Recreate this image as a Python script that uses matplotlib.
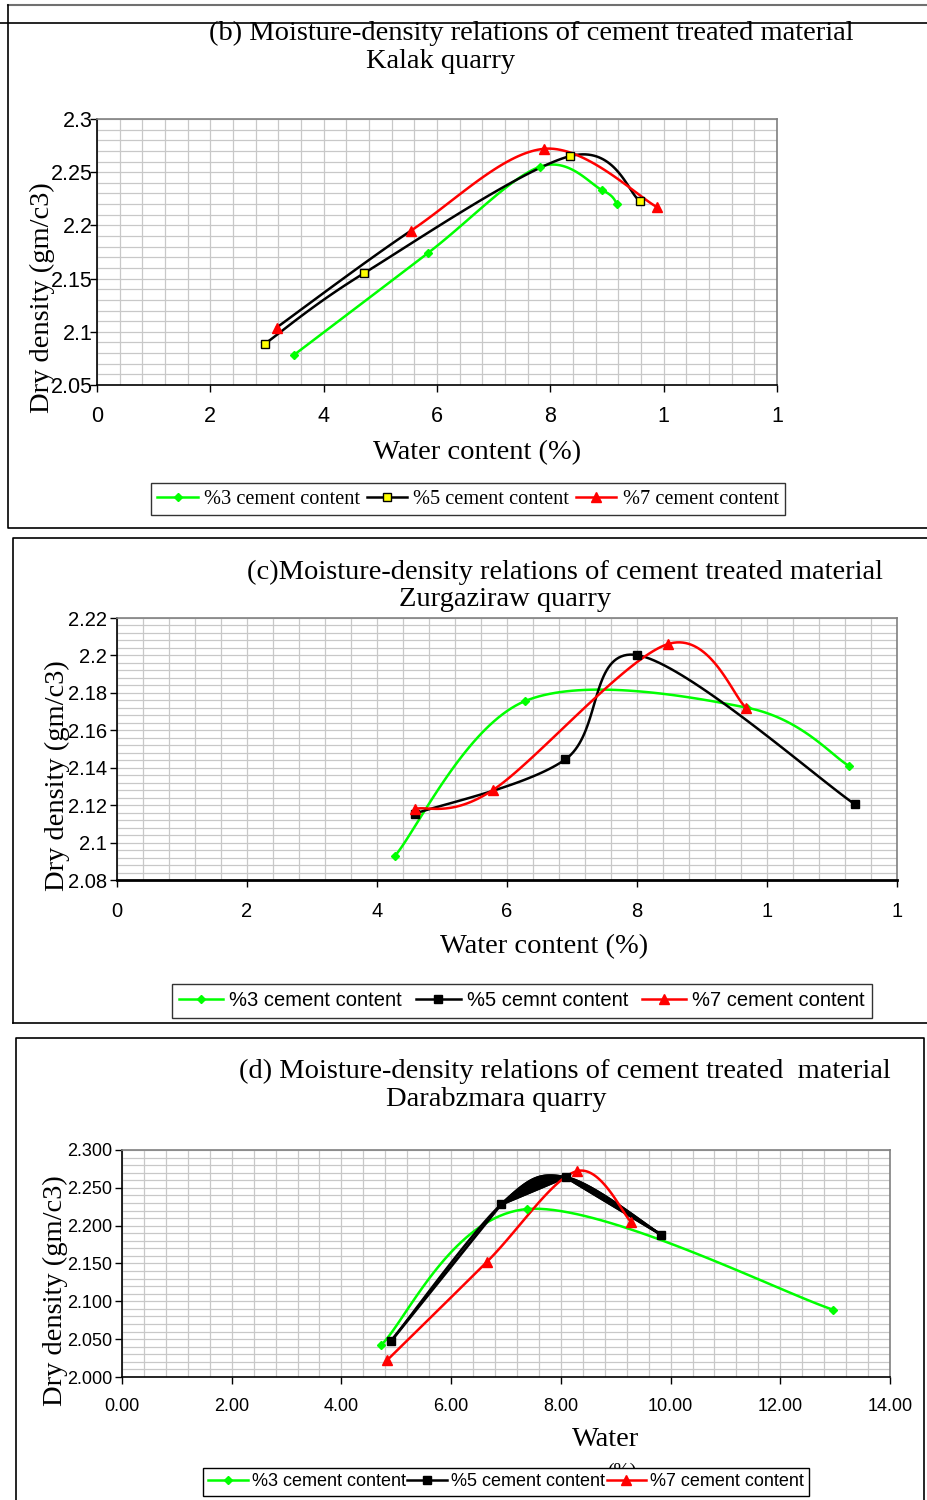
import numpy as np
import matplotlib
matplotlib.use("Agg")
import matplotlib.pyplot as plt
from matplotlib.lines import Line2D
from matplotlib.ticker import MultipleLocator

# ---- data ----
# (b) Kalak quarry
b_x3 = [3.47, 5.84, 7.81, 8.92, 9.18]
b_y3 = [2.078, 2.174, 2.255, 2.233, 2.220]
b_x5 = [2.97, 4.71, 8.34, 9.58]
b_y5 = [2.089, 2.155, 2.265, 2.223]
b_x7 = [3.17, 5.54, 7.89, 9.89]
b_y7 = [2.104, 2.195, 2.272, 2.217]

# (c) Zurgaziraw quarry
c_x3 = [4.28, 6.27, 9.70, 11.26]
c_y3 = [2.093, 2.1755, 2.172, 2.141]
c_x5 = [4.59, 6.90, 8.00, 11.35]
c_y5 = [2.1155, 2.1445, 2.2002, 2.1205]
c_x7 = [4.59, 5.78, 8.47, 9.68]
c_y7 = [2.118, 2.128, 2.206, 2.172]

# (d) Darabzmara quarry
d_x3 = [4.72, 7.39, 12.96]
d_y3 = [2.042, 2.222, 2.089]
d_x5 = [4.91, 6.91, 8.09, 9.83]
d_y5 = [2.048, 2.228, 2.264, 2.188]
d_x7 = [4.83, 6.65, 8.29, 9.28]
d_y7 = [2.022, 2.152, 2.272, 2.205]

x_ticks_bc = [0, 2, 4, 6, 8, 10, 12]
x_labels_bc = ['0', '2', '4', '6', '8', '1', '1']
x_ticks_d = [0, 2, 4, 6, 8, 10, 12, 14]

GREEN = '#00ff00'
RED = '#ff0000'
SERIF = 'Liberation Serif'
SANS = 'Liberation Sans'
TITLE_SIZE = 20.5

W, H = 928, 1500


def fx(px):
    return px / W


def fy(py):
    return 1 - py / H


def smooth_segments(x, y, n=40):
    # Excel style smoothed line: cubic bezier per segment
    x = np.asarray(x, float)
    y = np.asarray(y, float)
    m = len(x)
    segs = []
    t = np.linspace(0, 1, n)[:, None]
    for i in range(m - 1):
        p0 = np.array([x[max(i - 1, 0)], y[max(i - 1, 0)]])
        p1 = np.array([x[i], y[i]])
        p2 = np.array([x[i + 1], y[i + 1]])
        p3 = np.array([x[min(i + 2, m - 1)], y[min(i + 2, m - 1)]])
        c1 = p1 + (p2 - p0) / 6
        c2 = p2 - (p3 - p1) / 6
        pts = ((1 - t) ** 3) * p1 + 3 * ((1 - t) ** 2) * t * c1 + 3 * (1 - t) * t ** 2 * c2 + t ** 3 * p2
        segs.append(pts)
    return segs


def draw_series(ax, x, y, color, marker, mfc, ms, seg_colors=None, wedge=False):
    segs = smooth_segments(x, y)
    for i, s in enumerate(segs):
        col = seg_colors[i] if seg_colors else color
        ax.plot(s[:, 0], s[:, 1], color=col, lw=1.8, zorder=3)
        if wedge and i > 0:
            # smoothed and straight line drawn together -> filled sliver
            poly = np.vstack([s, [[x[i + 1], y[i + 1]], [x[i], y[i]]]])
            ax.fill(poly[:, 0], poly[:, 1], color=color, lw=1.8, zorder=3)
    if wedge:
        ax.plot(x, y, color=color, lw=2.0, zorder=3)
    ax.plot(x, y, ls='none', marker=marker, mfc=mfc, mec='black' if mfc == '#ffff00' else color,
            ms=ms, mew=1.0, zorder=4)


def setup_axes(rect_px, xlim, ylim, xstep, ystep, xticks, xlabels, yticks, ylabels,
               tick_size, xpad, ypad):
    l, t, r, b = rect_px
    ax = fig.add_axes([fx(l), fy(b), fx(r) - fx(l), fy(t) - fy(b)])
    ax.set_xlim(*xlim)
    ax.set_ylim(*ylim)
    ax.xaxis.set_minor_locator(MultipleLocator(xstep))
    ax.yaxis.set_minor_locator(MultipleLocator(ystep))
    ax.grid(which='both', color='#c8c8c8', lw=0.9, zorder=0)
    ax.set_axisbelow(True)
    ax.set_xticks(xticks)
    ax.set_xticklabels(xlabels)
    ax.set_yticks(yticks)
    ax.set_yticklabels(ylabels)
    ax.tick_params(which='minor', length=0)
    ax.tick_params(which='major', direction='out', length=5, width=1, labelsize=tick_size)
    ax.tick_params(axis='x', pad=xpad)
    ax.tick_params(axis='y', pad=ypad)
    for lab in ax.get_xticklabels() + ax.get_yticklabels():
        lab.set_family(SANS)
    for side in ['top', 'right']:
        ax.spines[side].set_color('#808080')
        ax.spines[side].set_linewidth(1.2)
    for side in ['left', 'bottom']:
        ax.spines[side].set_color('black')
        ax.spines[side].set_linewidth(1.2)
    return ax


def handles(mfc5):
    return [
        Line2D([], [], color=GREEN, lw=1.8, marker='D', ms=4.5, mfc=GREEN, mec=GREEN),
        Line2D([], [], color='black', lw=1.8, marker='s', ms=5.5, mfc=mfc5, mec='black'),
        Line2D([], [], color=RED, lw=1.8, marker='^', ms=6.5, mfc=RED, mec=RED),
    ]


fig = plt.figure(figsize=(W / 100, H / 100), dpi=100)

# panel frames
frame_kw = dict(color='black', lw=1.2, transform=fig.transFigure)
fig.add_artist(Line2D([fx(8), 1], [fy(5), fy(5)], color='#707070', lw=1.5, transform=fig.transFigure))
fig.add_artist(Line2D([0, 1], [fy(23), fy(23)], **frame_kw))
fig.add_artist(Line2D([fx(8), fx(8), 1], [fy(5), fy(528), fy(528)], **frame_kw))
fig.add_artist(Line2D([fx(13), fx(13), 1], [fy(1023), fy(538), fy(538)], **frame_kw))
fig.add_artist(Line2D([1, fx(13)], [fy(1023), fy(1023)], **frame_kw))
fig.add_artist(Line2D([fx(16), fx(16), fx(924), fx(924)], [fy(1500), fy(1038), fy(1038), fy(1500)], **frame_kw))

# ---- (b) ----
ax = setup_axes((97, 119, 777, 385), (0, 12), (2.05, 2.3), 0.4, 0.01,
                x_ticks_bc, x_labels_bc,
                [2.05, 2.1, 2.15, 2.2, 2.25, 2.3], ['2.05', '2.1', '2.15', '2.2', '2.25', '2.3'],
                15.5, 10, -2)
draw_series(ax, b_x3, b_y3, GREEN, 'D', GREEN, 4.5)
draw_series(ax, b_x5, b_y5, 'black', 's', '#ffff00', 5.5)
draw_series(ax, b_x7, b_y7, RED, '^', RED, 6.5, seg_colors=['black', RED, RED])
fig.text(fx(531), fy(33), '(b) Moisture-density relations of cement treated material',
         family=SERIF, fontsize=TITLE_SIZE, ha='center', va='center')
fig.text(fx(441), fy(62), 'Kalak quarry', family=SERIF, fontsize=TITLE_SIZE, ha='center', va='center')
fig.text(fx(477), fy(453), 'Water content (%)', family=SERIF, fontsize=TITLE_SIZE, ha='center', va='center')
fig.text(fx(42), fy(298), 'Dry density (gm/c3)', family=SERIF, fontsize=TITLE_SIZE, ha='center',
         va='center', rotation=90)
fig.legend(handles('#ffff00'), ['%3 cement content', '%5 cement content', '%7 cement content'],
           loc='center', bbox_to_anchor=(fx(468), fy(499)), ncol=3, frameon=True, fancybox=False,
           edgecolor='black', prop={'family': SERIF, 'size': 14.7}, handlelength=2.0,
           columnspacing=0.3, handletextpad=0.3, borderpad=0.3)

# ---- (c) ----
ax = setup_axes((117, 618, 897, 880), (0, 12), (2.08, 2.22), 0.4, 0.004,
                x_ticks_bc, x_labels_bc,
                [2.08, 2.1, 2.12, 2.14, 2.16, 2.18, 2.2, 2.22],
                ['2.08', '2.1', '2.12', '2.14', '2.16', '2.18', '2.2', '2.22'],
                14.5, 11, 2)
ax.spines['bottom'].set_linewidth(2)
draw_series(ax, c_x3, c_y3, GREEN, 'D', GREEN, 4.5)
draw_series(ax, c_x5, c_y5, 'black', 's', 'black', 5.5)
draw_series(ax, c_x7, c_y7, RED, '^', RED, 6.5)
fig.text(fx(565), fy(572), '(c)Moisture-density relations of cement treated material',
         family=SERIF, fontsize=TITLE_SIZE, ha='center', va='center')
fig.text(fx(505), fy(600), 'Zurgaziraw quarry', family=SERIF, fontsize=TITLE_SIZE, ha='center', va='center')
fig.text(fx(544), fy(947), 'Water content (%)', family=SERIF, fontsize=TITLE_SIZE, ha='center', va='center')
fig.text(fx(57), fy(776), 'Dry density (gm/c3)', family=SERIF, fontsize=TITLE_SIZE, ha='center',
         va='center', rotation=90)
fig.legend(handles('black'), ['%3 cement content', '%5 cemnt content', '%7 cement content'],
           loc='center', bbox_to_anchor=(fx(522), fy(1001)), ncol=3, frameon=True, fancybox=False,
           edgecolor='black', prop={'family': SANS, 'size': 14.5}, handlelength=2.2,
           columnspacing=0.7, handletextpad=0.3, borderpad=0.35)

# ---- (d) ----
ax = setup_axes((122, 1150, 890, 1377), (0, 14), (2.0, 2.3), 0.4, 0.01,
                x_ticks_d, ['%.2f' % v for v in x_ticks_d],
                [2.0, 2.05, 2.1, 2.15, 2.2, 2.25, 2.3],
                ['2.000', '2.050', '2.100', '2.150', '2.200', '2.250', '2.300'],
                13, 10, 2)
draw_series(ax, d_x3, d_y3, GREEN, 'D', GREEN, 4.5)
draw_series(ax, d_x5, d_y5, 'black', 's', 'black', 5.5, wedge=True)
draw_series(ax, d_x7, d_y7, RED, '^', RED, 6.5)
fig.text(fx(565), fy(1071), '(d) Moisture-density relations of cement treated  material',
         family=SERIF, fontsize=TITLE_SIZE, ha='center', va='center')
fig.text(fx(496), fy(1100), 'Darabzmara quarry', family=SERIF, fontsize=TITLE_SIZE, ha='center', va='center')
fig.text(fx(606), fy(1440), 'Water', family=SERIF, fontsize=TITLE_SIZE, ha='center', va='center')
fig.text(fx(622), fy(1471), '(%)', family=SERIF, fontsize=14, ha='center', va='center', zorder=1)
fig.text(fx(55), fy(1291), 'Dry density (gm/c3)', family=SERIF, fontsize=TITLE_SIZE, ha='center',
         va='center', rotation=90)
leg = fig.legend(handles('black'), ['%3 cement content', '%5 cement content', '%7 cement content'],
                 loc='center', bbox_to_anchor=(fx(506), fy(1482)), ncol=3, frameon=True, fancybox=False,
                 edgecolor='black', prop={'family': SANS, 'size': 13}, handlelength=2.2,
                 columnspacing=0.1, handletextpad=0.2, borderpad=0.3)
leg.set_zorder(5)
leg.get_frame().set_facecolor('white')
leg.get_frame().set_alpha(1)

fig.savefig('out.png', dpi=100)
